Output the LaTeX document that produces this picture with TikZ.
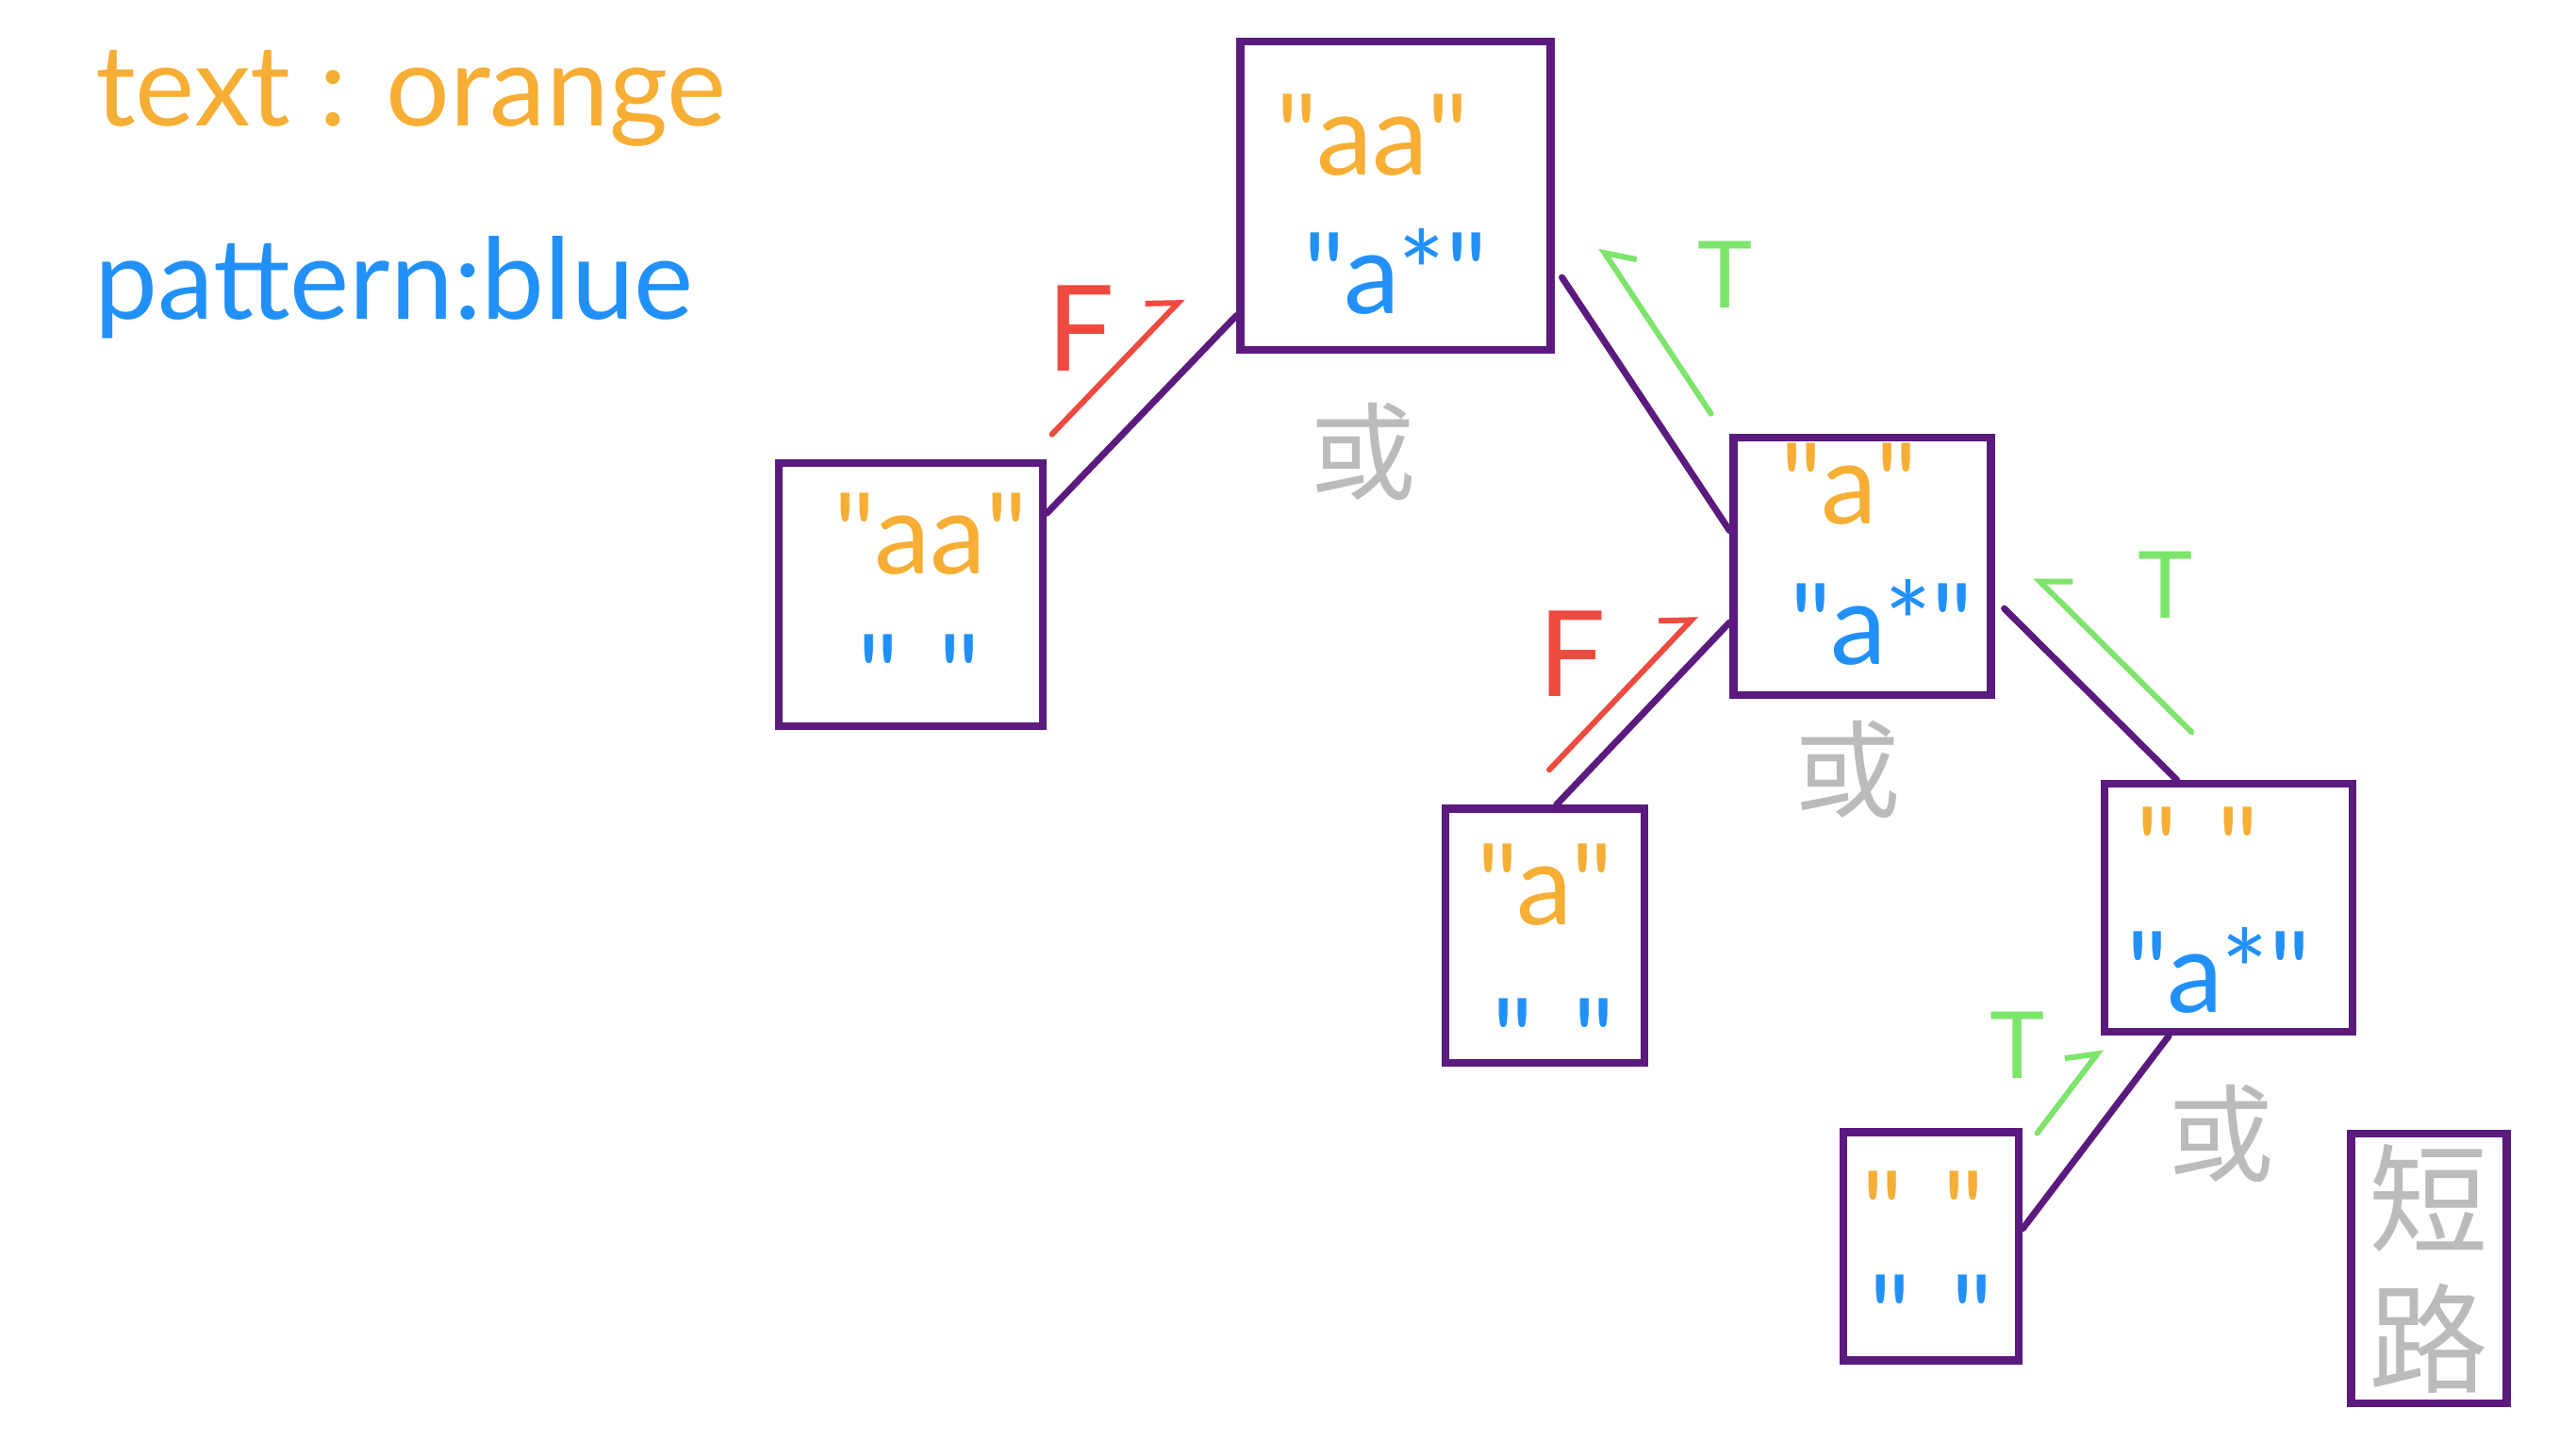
\documentclass[tikz,border=0pt]{standalone}
\usepackage{fontspec}
\setmainfont{Lato}[Ligatures=TeXOff]
\newfontfamily\cjk{Noto Sans CJK SC}
\usetikzlibrary{arrows.meta,calc}
\definecolor{txtor}{HTML}{F7AE35}
\definecolor{patbl}{HTML}{2190F9}
\definecolor{ppl}{HTML}{5B1A7D}
\definecolor{fred}{HTML}{EE4B40}
\definecolor{tgrn}{HTML}{7DE46C}
\definecolor{orgray}{HTML}{BBBBBB}
\tikzset{
  boxnd/.style={draw=ppl,line width=2.4pt,rectangle,inner sep=0pt},
  strnd/.style={text=txtor,font=\fontsize{34}{40}\selectfont},
  patnd/.style={text=patbl,font=\fontsize{34}{40}\selectfont},
  lnk/.style={draw=ppl,line width=2pt,line cap=round},
  farr/.style={-{Straight Barb[harpoon,length=7pt,width=14pt]},draw=fred,line width=1.7pt,line cap=round},
  tarr/.style={farr,draw=tgrn},
  tarrsw/.style={tarr,-{Straight Barb[harpoon,swap,length=7pt,width=14pt]}},
  flbl/.style={text=fred,font=\fontsize{36}{40}\selectfont},
  tlbl/.style={text=tgrn,font=\fontsize{28}{32}\selectfont},
  orlbl/.style={text=orgray,font=\cjk\fontsize{32}{36}\selectfont}
}
\begin{document}
\begin{tikzpicture}[x=0.01742cm,y=-0.01742cm]
  \fill[white] (0,0) rectangle (1568,877);
  \useasboundingbox (0,0) rectangle (1568,877);

  % legend
  \node[strnd] (lgtxt) at (250,60) {text : orange};
  \node[patnd] (lgpat) at (240,175) {pattern:blue};

  % boxes
  \node[boxnd,minimum width=3.29cm,minimum height=3.27cm] (A) at (849.5,119) {};
  \node[boxnd,minimum width=2.80cm,minimum height=2.79cm] (B) at (554.5,362) {};
  \node[boxnd,minimum width=2.73cm,minimum height=2.73cm] (C) at (1133.5,344.5) {};
  \node[boxnd,minimum width=2.11cm,minimum height=2.70cm] (D) at (940.5,569.5) {};
  \node[boxnd,minimum width=2.63cm,minimum height=2.63cm] (E) at (1356.5,552.5) {};
  \node[boxnd,minimum width=1.86cm,minimum height=2.42cm] (F) at (1175.5,758.5) {};
  \node[boxnd,minimum width=1.65cm,minimum height=2.86cm,align=center,
        text=orgray,font=\cjk\fontsize{36}{42}\selectfont] (G) at (1478.5,772) {短\\路};

  % strings and patterns
  \node[strnd] (Astr) at ($(A.center)+(-14,-37)$) {"aa"};
  \node[patnd] (Apat) at ($(A.center)+(0,46)$) {"a*"};
  \node[strnd] (Bstr) at ($(B.center)+(12,-37)$) {"aa"};
  \node[patnd] (Bpat) at ($(B.center)+(5,49)$) {"\hspace{.35em}"};
  \node[strnd] (Cstr) at ($(C.center)+(-8,-50)$) {"a"};
  \node[patnd] (Cpat) at ($(C.center)+(12,34)$) {"a*"};
  \node[strnd] (Dstr) at ($(D.center)+(0,-31)$) {"a"};
  \node[patnd] (Dpat) at ($(D.center)+(5,63)$) {"\hspace{.35em}"};
  \node[strnd] (Estr) at ($(E.center)+(-19,-37)$) {"\hspace{.35em}"};
  \node[patnd] (Epat) at ($(E.center)+(-6,38)$) {"a*"};
  \node[strnd] (Fstr) at ($(F.center)+(-5,-21)$) {"\hspace{.35em}"};
  \node[patnd] (Fpat) at ($(F.center)+(0,42)$) {"\hspace{.35em}"};

  % tree edges
  \draw[lnk] (A.217) -- (B.31);
  \draw[lnk,shorten <=4pt] (A.-24) -- (C.165);
  \draw[lnk] (C.203) -- (D.85);
  \draw[lnk,shorten <=4pt] (C.-14) -- (E.112);
  \draw[lnk] (E.245) -- (F.11);

  % results going back up
  \draw[farr] ($(B.31)!0.22!(A.217)!0.54cm!90:(A.217)$) -- ($(B.31)!0.91!(A.217)!0.54cm!90:(A.217)$);
  \draw[tarrsw] ($(C.165)!0.34!(A.-24)!0.52cm!-90:(A.-24)$) -- ($(C.165)!0.97!(A.-24)!0.52cm!-90:(A.-24)$);
  \draw[farr] ($(D.85)!0.08!(C.203)!0.31cm!90:(C.203)$) -- ($(D.85)!0.93!(C.203)!0.31cm!90:(C.203)$);
  \draw[tarrsw] ($(E.112)!0.09!(C.-14)!0.47cm!-90:(C.-14)$) -- ($(E.112)!0.95!(C.-14)!0.47cm!-90:(C.-14)$);
  \draw[tarr] ($(F.11)!0.35!(E.245)!0.49cm!90:(E.245)$) -- ($(F.11)!0.79!(E.245)!0.49cm!90:(E.245)$);

  \node[flbl] (fAB) at (658,200) {F};
  \node[tlbl] (tAC) at (1050,167) {T};
  \node[flbl] (fCD) at (957,398) {F};
  \node[tlbl] (tCE) at (1318,356) {T};
  \node[tlbl] (tEF) at (1228,636) {T};

  \node[orlbl] (orA) at (830,275) {或};
  \node[orlbl] (orC) at (1125,468) {或};
  \node[orlbl] (orE) at (1352,690) {或};
\end{tikzpicture}
\end{document}
